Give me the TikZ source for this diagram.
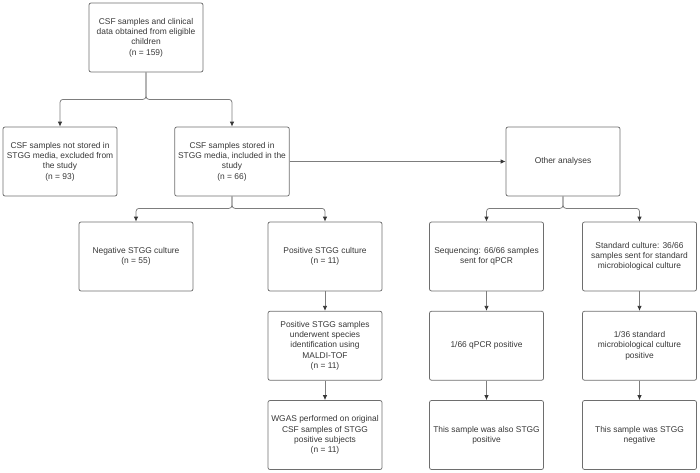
\documentclass[tikz,border=0pt]{standalone}
\usepackage{fontspec}
\setmainfont{Liberation Sans}
\usetikzlibrary{positioning,arrows.meta}
\definecolor{Edge}{RGB}{110,110,110}
\definecolor{Wire}{RGB}{125,125,125}
\definecolor{Ink}{RGB}{55,55,55}
\tikzstyle{block} = [rectangle, minimum width=114pt, minimum height=69pt, draw = Edge, line width = 0.75pt, text = Ink, align = center, rounded corners = 2pt, font = \fontsize{8.4}{10.3}\selectfont]
\tikzstyle{line} = [draw = Wire, line width = 0.75pt, rounded corners = 3pt, -{Latex[length=5pt,width=4.5pt,color=Ink]}]

\begin{document}
\begin{tikzpicture}[x = 1pt, y = -1pt, node distance = 19.5pt]

    \useasboundingbox (0,0) rectangle (700,472);

    \node (top)    [block] at (146,37.5)  {CSF samples and clinical\\ data obtained from eligible\\ children\\ (n = 159)};
    \node (excl)   [block] at (60,161.5)  {CSF samples not stored in\\ STGG media, excluded from\\ the study\\ (n = 93)};
    \node (incl)   [block] at (232,161.5) {CSF samples stored in\\ STGG media, included in the\\ study\\ (n = 66)};
    \node (other)  [block] at (563,161.5) {Other analyses};
    \node (neg)    [block] at (136,256.5) {Negative STGG culture\\ (n = 55)};
    \node (pos)    [block] at (325,256.5) {Positive STGG culture\\ (n = 11)};
    \node (seq)    [block] at (486.5,256.5) {Sequencing: 66/66 samples\\ sent for qPCR};
    \node (std)    [block] at (639.5,256.5) {Standard culture: 36/66\\ samples sent for standard\\ microbiological culture};
    \node (maldi)  [block, below = of pos]   {Positive STGG samples\\ underwent species\\ identification using\\ MALDI-TOF\\ (n = 11)};
    \node (wgas)   [block, below = of maldi] {WGAS performed on original\\ CSF samples of STGG\\ positive subjects\\ (n = 11)};
    \node (qpcr)   [block, below = of seq]   {1/66 qPCR positive};
    \node (alsopos)[block, below = of qpcr]  {This sample was also STGG\\ positive};
    \node (cult)   [block, below = of std]   {1/36 standard\\ microbiological culture\\ positive};
    \node (stggneg)[block, below = of cult]  {This sample was STGG\\ negative};

    \path [line] (top.south) -- ++(0,27) -| (excl);
    \path [line] (top.south) -- ++(0,27) -| (incl);
    \path [line] (incl) -- (other);
    \path [line] (incl.south) -- ++(0,12) -| (neg);
    \path [line] (incl.south) -- ++(0,12) -| (pos);
    \path [line] (other.south) -- ++(0,12) -| (seq);
    \path [line] (other.south) -- ++(0,12) -| (std);
    \path [line] (pos) -- (maldi);
    \path [line] (maldi) -- (wgas);
    \path [line] (seq) -- (qpcr);
    \path [line] (qpcr) -- (alsopos);
    \path [line] (std) -- (cult);
    \path [line] (cult) -- (stggneg);
  \end{tikzpicture}
\end{document}
